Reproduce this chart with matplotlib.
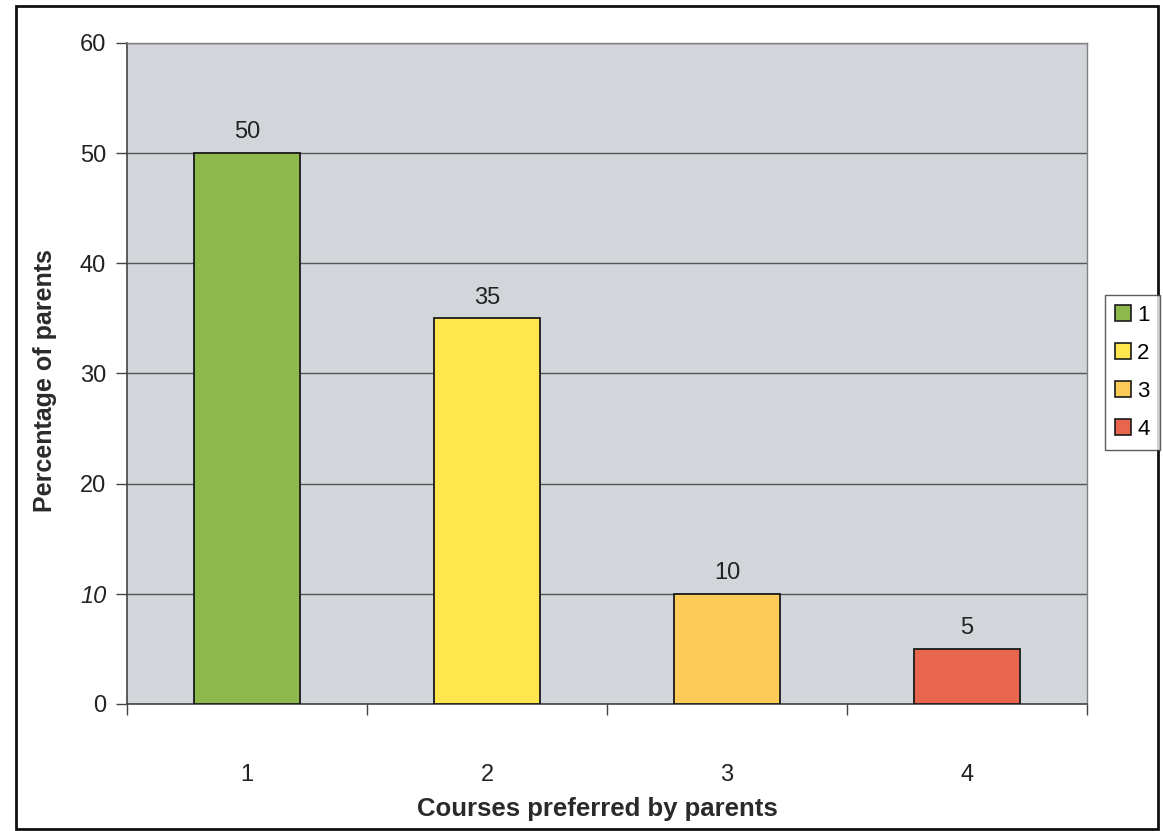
import matplotlib
matplotlib.use("Agg")
import matplotlib.pyplot as plt
from matplotlib.patches import Rectangle, Patch

plt.rcParams["font.family"] = ["Liberation Sans", "DejaVu Sans"]

# Courses preferred by parents (percent)
courses = ["1", "2", "3", "4"]
percent = [50, 35, 10, 5]
bar_colors = ["#8DB84C", "#FFE64E", "#FDCB58", "#E8654E"]
y_ticks = [0, 10, 20, 30, 40, 50, 60]

fig = plt.figure(figsize=(11.63, 8.31), dpi=100)
ax = fig.add_axes([127 / 1163, 1 - 704 / 831, 960 / 1163, 661 / 831])

x = range(len(courses))
bars = ax.bar(x, percent, width=0.44, color=bar_colors,
              edgecolor="#1a1a1a", linewidth=1.3, zorder=3)

for rect, val in zip(bars, percent):
    ax.text(rect.get_x() + rect.get_width() / 2, val + 0.9, str(val),
            ha="center", va="bottom", fontsize=17, color="#222222")

ax.set_xlim(-0.5, len(courses) - 0.5)
ax.set_ylim(0, 60)
ax.set_facecolor("#D2D5DA")

# category ticks sit between groups, labels centred under bars
ax.set_xticks([i - 0.5 for i in range(len(courses) + 1)])
ax.set_xticklabels([])
ax.set_xticks(list(x), minor=True)
ax.set_xticklabels(courses, minor=True, fontsize=17, color="#222222")
ax.tick_params(axis="x", which="major", direction="out", length=8,
               width=1, color="#444444")
ax.tick_params(axis="x", which="minor", length=0, pad=43)

ax.set_yticks(y_ticks)
ax.set_yticklabels([str(t) for t in y_ticks], fontsize=17, color="#222222")
ax.tick_params(axis="y", direction="out", length=8, width=1,
               color="#444444", pad=7)
ax.get_yticklabels()[1].set_style("italic")

ax.grid(True, axis="y", color="#555555", linewidth=1.0, zorder=1)

for side in ["top", "right"]:
    ax.spines[side].set_color("#808080")
    ax.spines[side].set_linewidth(1.0)
for side in ["left", "bottom"]:
    ax.spines[side].set_color("#444444")
    ax.spines[side].set_linewidth(1.2)

ax.set_xlabel("Courses preferred by parents", fontsize=18.5, fontweight="bold",
              color="#2a2a2a")
ax.set_ylabel("Percentage of parents", fontsize=18, fontweight="bold",
              color="#2a2a2a")
ax.xaxis.set_label_coords(0.49, -0.14)
ax.yaxis.set_label_coords(-0.073, 0.49)

# legend boxes on the right
handles = [Patch(facecolor=c, edgecolor="#1a1a1a", linewidth=1.2, label=l)
           for c, l in zip(bar_colors, courses)]
leg = fig.legend(handles=handles, loc="upper left",
                 bbox_to_anchor=(1105 / 1163, 1 - 295 / 831),
                 fontsize=16, frameon=True, fancybox=False,
                 handlelength=0.7, handleheight=0.7, handletextpad=0.3,
                 labelspacing=0.76, borderpad=0.45, borderaxespad=0)
leg.get_frame().set_edgecolor("#333333")
leg.get_frame().set_linewidth(1.0)

# outer chart frame
fig.patches.append(Rectangle((16 / 1163, 2 / 831), 1142 / 1163, 823 / 831,
                             transform=fig.transFigure, fill=False,
                             edgecolor="#111111", linewidth=2.0))

fig.savefig("out.png", dpi=100)
